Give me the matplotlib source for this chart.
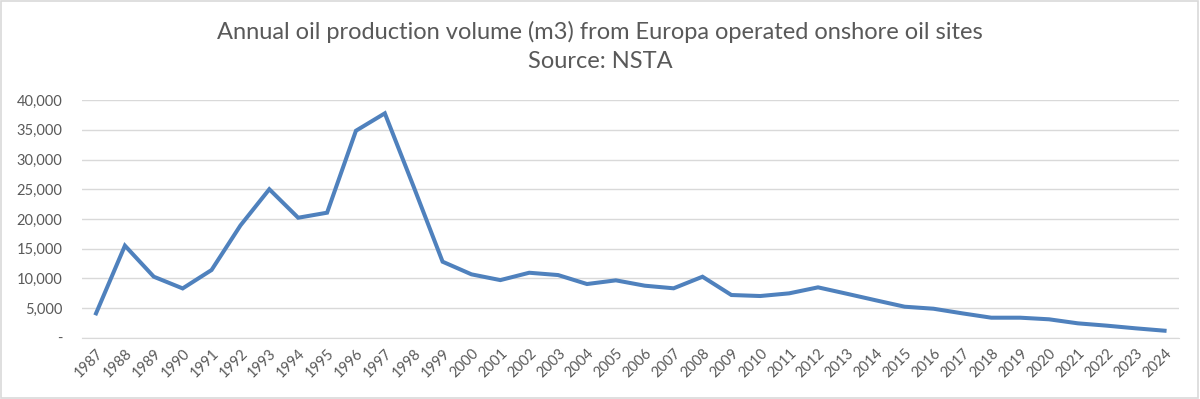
import matplotlib.pyplot as plt
from matplotlib.patches import Rectangle
from matplotlib.ticker import FuncFormatter

years = list(range(1987, 2025))
volume = [4100, 15500, 10270, 8300, 11400, 18900, 25000, 20200, 21050, 34850,
          37780, 25400, 12800, 10670, 9700, 10940, 10550, 9040, 9660, 8760,
          8320, 10270, 7190, 7020, 7470, 8480, 7400, 6300, 5220, 4880,
          4100, 3370, 3370, 3100, 2420, 2030, 1580, 1180]

title = "Annual oil production volume (m3) from Europa operated onshore oil sites"
subtitle = "Source: NSTA"

plt.rcParams['font.family'] = ['Lato', 'DejaVu Sans']
grey_text = '#595959'
grid_col = '#d9d9d9'

fig = plt.figure(figsize=(12, 3.99), dpi=100)
ax = fig.add_axes([0.068, 0.1536, 0.9145, 0.5954])

x = list(range(len(years)))
ax.plot(x, volume, color='#4f81bd', linewidth=2.9, solid_joinstyle='miter')

ax.set_xlim(-0.5, len(years) - 0.5)
ax.set_ylim(0, 40000)
ax.set_yticks(range(0, 40001, 5000))
ax.yaxis.set_major_formatter(FuncFormatter(lambda v, p: '-' if v == 0 else f'{int(v):,}'))
ax.set_xticks(x)
ax.set_xticklabels([str(y) for y in years], rotation=45, ha='right',
                   rotation_mode='anchor')

ax.grid(axis='y', color=grid_col, linewidth=1)
ax.set_axisbelow(True)
for s in ['top', 'left', 'right']:
    ax.spines[s].set_visible(False)
ax.spines['bottom'].set_color(grid_col)
ax.tick_params(axis='both', length=0, colors=grey_text, labelsize=10.5)
ax.tick_params(axis='y', pad=14)
ax.tick_params(axis='x', pad=6)

fig.text(0.5, 0.92, title, ha='center', va='center', fontsize=17, color=grey_text)
fig.text(0.5, 0.845, subtitle, ha='center', va='center', fontsize=17, color=grey_text)

# chart border
fig.patches.append(Rectangle((0.001, 0.002), 0.997, 0.995, transform=fig.transFigure,
                             fill=False, edgecolor=grid_col, linewidth=1.2))

fig.savefig('out.png', dpi=100)
